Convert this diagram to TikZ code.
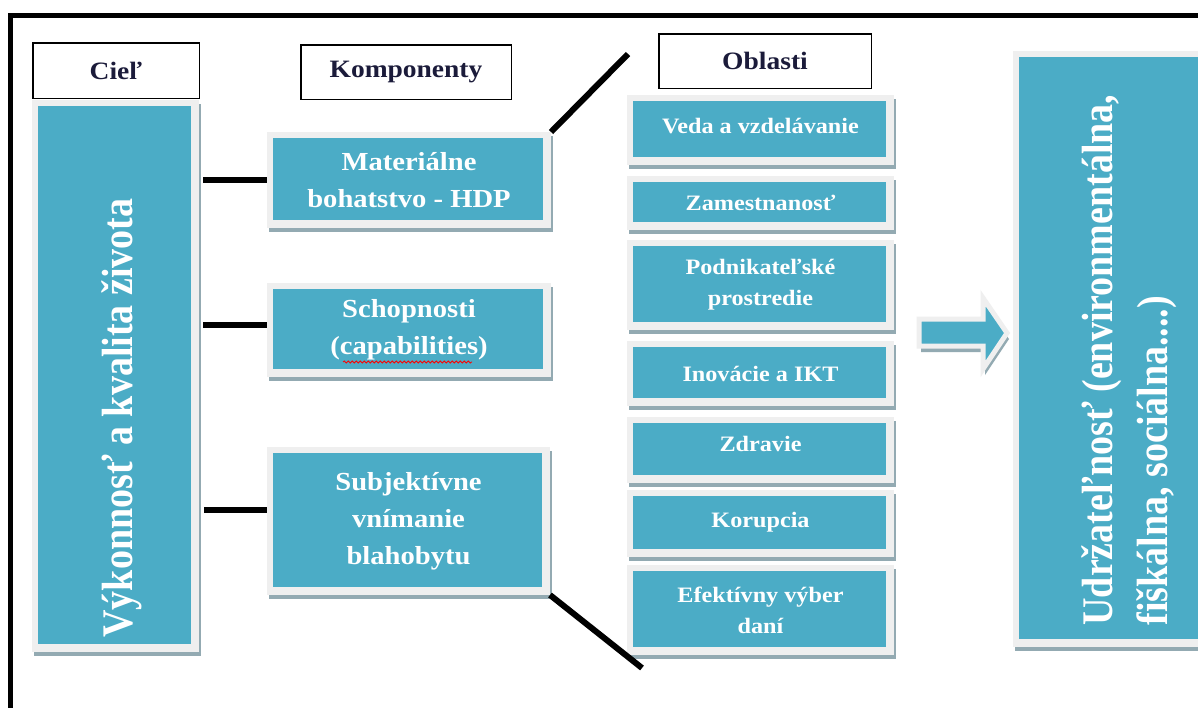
\documentclass[tikz,border=0pt]{standalone}
\usepackage{fontspec}
\usepackage{graphicx}
\setmainfont{Liberation Serif}[FakeStretch=1.1]
\newfontfamily\rotfont{Liberation Serif}
\usetikzlibrary{shadows,decorations.pathmorphing}
\definecolor{tealA}{HTML}{4BACC6}
\definecolor{rimA}{HTML}{EFEFEF}
\definecolor{shadA}{HTML}{93AAB2}
\definecolor{navyA}{HTML}{1B1B3A}
\begin{document}
\begin{tikzpicture}[x=1pt,y=-1pt,
 tbox/.style={fill=rimA, inner sep=0pt, outer sep=0pt, text=white, align=center, font=\bfseries,
   drop shadow={shadow xshift=2pt, shadow yshift=-4pt, fill=shadA, opacity=1},
   path picture={\fill[tealA] ([shift={(6pt,-6pt)}]path picture bounding box.north west) rectangle ([shift={(-8pt,8pt)}]path picture bounding box.south east);}},
 comp/.style={tbox, minimum width=284pt, font=\bfseries\fontsize{26}{37}\selectfont},
 area/.style={tbox, minimum width=267pt, font=\bfseries\fontsize{22}{31}\selectfont},
 head/.style={draw=black, line width=1.5pt, fill=white, inner sep=0pt, text=navyA, font=\bfseries\fontsize{25}{30}\selectfont},
 conn/.style={line width=6pt, black},
 rottext/.style={rotate=90, text=white, inner sep=0pt},
]
\useasboundingbox (0,0) rectangle (1198,707);
\clip (0,0) rectangle (1198,707);
\fill[white] (0,0) rectangle (1198,707);
% outer frame
\draw[line width=5pt, black] (10,720) -- (10,15) -- (1220,15);

% goal box
\node[tbox, minimum width=167pt, minimum height=552pt] (goal) at (115.5,376) {};
% component boxes
\node[comp, minimum height=96pt] (mat) at (409,180) {Materiálne\\bohatstvo - HDP};
\node[comp, minimum height=94pt] (cap) at (409,330) {Schopnosti\\(capabilities)};
\node[comp, minimum width=283pt, minimum height=148pt] (subj) at (408.5,521) {Subjektívne\\vnímanie\\blahobytu};
% area boxes
\node[area, minimum height=70pt] (veda) at (760.5,130) {\raisebox{9pt}{Veda a vzdelávanie}};
\node[area, minimum height=54pt] (zam) at (760.5,203) {Zamestnanosť};
\node[area, minimum height=90pt] (pod) at (760.5,285) {Podnikateľské\\prostredie};
\node[area, minimum height=65pt] (ino) at (760.5,373.5) {Inovácie a IKT};
\node[area, minimum height=66pt] (zdr) at (760.5,450) {\raisebox{12pt}{Zdravie}};
\node[area, minimum height=67pt] (kor) at (760.5,523.5) {\raisebox{8pt}{Korupcia}};
\node[area, minimum height=90pt] (efe) at (760.5,610) {Efektívny výber\\daní};
% sustainability box
\node[tbox, minimum width=207pt, minimum height=596pt] (sust) at (1116.5,349) {};

% headers
\node[head, minimum width=166.5pt, minimum height=55.5pt] (cielh) at (116,70.5) {Cieľ};
\node[head, minimum width=210.5pt, minimum height=54.5pt] (komh) at (406,72) {Komponenty};
\node[head, minimum width=212.5pt, minimum height=54.5pt] (oblh) at (765,61) {Oblasti};

% connectors
\coordinate (s1) at ([yshift=5pt]cap.west);
\coordinate (s2) at ([yshift=11pt]subj.west);
\draw[conn, shorten <=4pt] (goal.east |- mat.west) -- (mat.west);
\draw[conn, shorten <=4pt] (s1 -| goal.east) -- (s1);
\draw[conn, shorten <=5pt] (s2 -| goal.east) -- (s2);
\coordinate (d1) at (628,54);
\coordinate (d2) at (642,668);
\draw[conn] (mat.north east) -- (d1);
\draw[conn] (subj.south east) -- (d2);

% block arrow
\draw[fill=tealA, draw=rimA, line width=5pt, line join=miter,
  drop shadow={shadow xshift=2pt, shadow yshift=-6pt, fill=shadA, opacity=1}]
  (919,319) -- (983,319) -- (983,298) -- (1007,333) -- (983,369) -- (983,346) -- (919,346) -- cycle;

% spell-check squiggle
\draw[red, line width=0.8pt, decorate, decoration={snake, amplitude=1pt, segment length=4pt}]
  ([xshift=-66pt,yshift=-32pt]cap.center) -- ([xshift=63pt,yshift=-32pt]cap.center);

% rotated texts
\node[rottext] (goaltxt) at (122,418) {\scalebox{1}[1.15]{\rotfont\bfseries\fontsize{38}{48}\selectfont Výkonnosť a kvalita života}};
\node[rottext] (susttxt) at (1129,360) {\scalebox{1}[1.15]{\rotfont\bfseries\fontsize{38}{48}\selectfont\begin{tabular}{@{}l@{}}Udržateľnosť (environmentálna,\\fiškálna, sociálna....)\end{tabular}}};
\end{tikzpicture}
\end{document}
